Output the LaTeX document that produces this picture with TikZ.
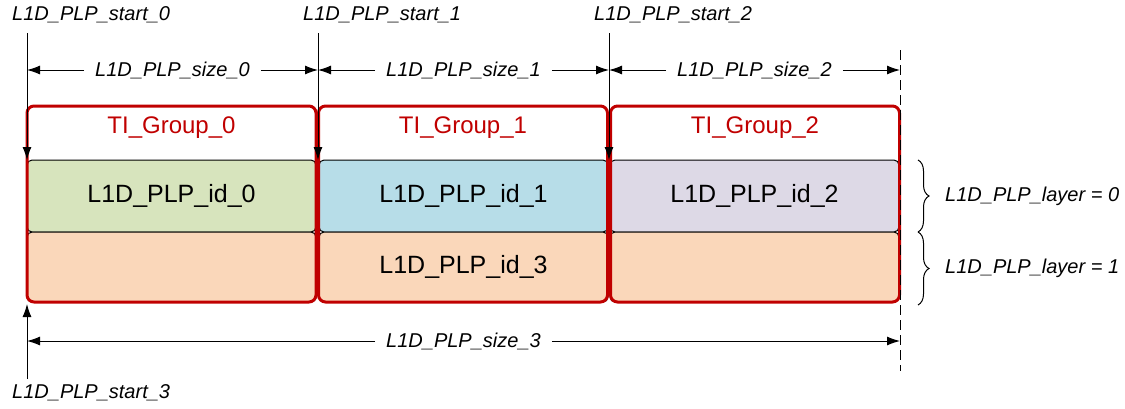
\documentclass[tikz,border=0pt]{standalone}
\usepackage{fontspec}
\setmainfont{Liberation Sans}
\usetikzlibrary{arrows.meta,decorations.pathreplacing}
\definecolor{redg}{HTML}{C00000}
\definecolor{cgreen}{HTML}{D7E4BD}
\definecolor{cblue}{HTML}{B7DDE8}
\definecolor{clav}{HTML}{DDD9E6}
\definecolor{cpeach}{HTML}{FAD7BA}
\begin{document}
\begin{tikzpicture}[x=1pt,y=-1pt,
  lbl/.style={font=\fontsize{20}{23}\selectfont\itshape, inner sep=1pt},
  dimlbl/.style={lbl, fill=white, inner xsep=11pt, inner ysep=2pt},
  dim/.style={line width=1pt, -{Latex[length=13pt,width=9pt]}},
  cell/.style={draw=black, line width=1pt, rounded corners=5pt, minimum height=72pt, minimum width=289pt, inner sep=0pt, font=\fontsize{25}{28}\selectfont},
  grp/.style={draw=redg, line width=3pt, rounded corners=7pt, minimum width=289pt, minimum height=196pt, inner sep=0pt},
  grptxt/.style={text=redg, font=\fontsize{24}{27}\selectfont, inner sep=0pt},
  brc/.style={decorate, decoration={brace, amplitude=11pt}, line width=1pt},
  dsh/.style={line width=1pt, dash pattern=on 10pt off 5pt}
]
\useasboundingbox (0,0) rectangle (1125,408);

% cells
\node[cell, fill=cgreen] (c0) at (171.5,196) {L1D\_PLP\_id\_0};
\node[cell, fill=cblue]  (c1) at (463.5,196) {L1D\_PLP\_id\_1};
\node[cell, fill=clav]   (c2) at (754.5,196) {L1D\_PLP\_id\_2};
\node[cell, fill=cpeach, minimum height=70pt] (c3) at (171.5,267) {};
\node[cell, fill=cpeach, minimum height=70pt] (c4) at (463.5,267) {L1D\_PLP\_id\_3};
\node[cell, fill=cpeach, minimum height=70pt] (c5) at (754.5,267) {};

% groups
\node[grp] (g0) at (171.5,204) {};
\node[grp] (g1) at (463,204) {};
\node[grp] (g2) at (755,204) {};
\node[grptxt] (gt0) at (171.5,128) {TI\_Group\_0};
\node[grptxt] (gt1) at (463,128) {TI\_Group\_1};
\node[grptxt] (gt2) at (755,128) {TI\_Group\_2};

% start labels and arrows
\node[lbl, anchor=west] (s0) at (11,15) {L1D\_PLP\_start\_0};
\node[lbl, anchor=west] (s1) at (302,15) {L1D\_PLP\_start\_1};
\node[lbl, anchor=west] (s2) at (593,15) {L1D\_PLP\_start\_2};
\node[lbl, anchor=west] (s3) at (11,393) {L1D\_PLP\_start\_3};

\coordinate (t0) at (27,33);  \coordinate (b0) at (27,160);
\coordinate (t1) at (318,33); \coordinate (b1) at (318,160);
\coordinate (t2) at (609,33); \coordinate (b2) at (609,160);
\draw[dim] (t0) -- (b0);
\draw[dim] (t1) -- (b1);
\draw[dim] (t2) -- (b2);

\coordinate (u0) at (27,379); \coordinate (u1) at (27,304);
\draw[dim] (u0) -- (u1);

% dashed end line
\coordinate (d0) at (900,50); \coordinate (d1) at (900,371);
\draw[dsh] (d0) -- (d1);

% size dimensions
\coordinate (L0) at (27,70); \coordinate (L1) at (318,70);
\coordinate (L2) at (609,70); \coordinate (L3) at (900,70);
\node[dimlbl] (z0) at (172.5,70) {L1D\_PLP\_size\_0};
\node[dimlbl] (z1) at (463.5,70) {L1D\_PLP\_size\_1};
\node[dimlbl] (z2) at (754.5,70) {L1D\_PLP\_size\_2};
\draw[dim] (z0) -- (L0); \draw[dim] (z0) -- (L1);
\draw[dim] (z1) -- (L1); \draw[dim] (z1) -- (L2);
\draw[dim] (z2) -- (L2); \draw[dim] (z2) -- (L3);

\coordinate (M0) at (27,341); \coordinate (M1) at (900,341);
\node[dimlbl] (z3) at (463.5,341) {L1D\_PLP\_size\_3};
\draw[dim] (z3) -- (M0); \draw[dim] (z3) -- (M1);

% braces
\coordinate (br0) at (918,160); \coordinate (br1) at (918,232);
\coordinate (br2) at (918,305);
\draw[brc] (br0) -- (br1);
\draw[brc] (br1) -- (br2);
\node[lbl, anchor=west] (ly0) at (944,196) {L1D\_PLP\_layer = 0};
\node[lbl, anchor=west] (ly1) at (944,268) {L1D\_PLP\_layer = 1};
\end{tikzpicture}
\end{document}
